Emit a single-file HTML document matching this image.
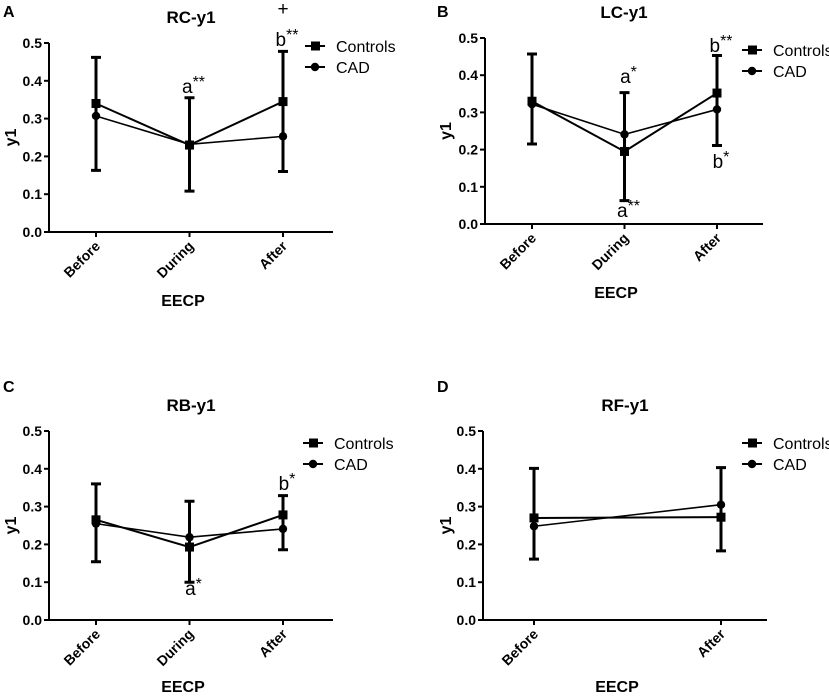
<!DOCTYPE html>
<html><head><meta charset="utf-8"><style>
body{margin:0;background:#fff}
svg text{font-family:"Liberation Sans",Arial,sans-serif;fill:#000}
.b{font-weight:bold}
</style></head><body>
<svg id="fig" width="829" height="695" viewBox="0 0 829 695" xmlns="http://www.w3.org/2000/svg"></svg>
<script>
// ---- data ----
const catsA = ["Before","During","After"];
const ctrlA = [0.34,0.23,0.345];
const cadA = [0.307,0.232,0.253];
const hiA = [0.462,0.355,0.478];
const loA = [0.163,0.108,0.16];

const catsB = ["Before","During","After"];
const ctrlB = [0.33,0.195,0.352];
const cadB = [0.322,0.241,0.308];
const hiB = [0.457,0.353,0.453];
const loB = [0.215,0.063,0.211];

const catsC = ["Before","During","After"];
const ctrlC = [0.265,0.193,0.278];
const cadC = [0.255,0.219,0.241];
const hiC = [0.36,0.314,0.329];
const loC = [0.154,0.1,0.186];

const catsD = ["Before","After"];
const ctrlD = [0.27,0.272];
const cadD = [0.248,0.305];
const hiD = [0.401,0.403];
const loD = [0.161,0.183];

const yTicks = ["0.0","0.1","0.2","0.3","0.4","0.5"];
const NS="http://www.w3.org/2000/svg";
const svg=document.getElementById('fig');
function el(tag,attrs,parent,txt){const e=document.createElementNS(NS,tag);for(const k in attrs)e.setAttribute(k,attrs[k]);if(txt!==undefined)e.textContent=txt;(parent||svg).appendChild(e);return e;}

function panel(p){
  const g=el('g',{});
  
  
  const y=v=>p.y0+(p.y5-p.y0)*(v/0.5);
  const n=p.cats.length;
  const x=i=>p.cx0+(p.cx1-p.cx0)*(n===1?0:i/(n-1));
  let t;
  t=el('text',{x:p.lx,y:p.ly,'font-size':16,class:'b'},g,p.id);
  
  t=el('text',{x:(p.ax0+p.ax1)/2,y:p.ty,'font-size':17,class:'b','text-anchor':'middle'},g,p.title);
  
  let a=el('path',{d:`M${p.ax0} ${p.y5}V${p.y0}H${p.ax1}`,stroke:'#000','stroke-width':2,fill:'none'},g);
  
  yTicks.forEach((s,i)=>{const v=parseFloat(s);
    el('line',{x1:p.ax0-5,x2:p.ax0,y1:y(v),y2:y(v),stroke:'#000','stroke-width':2},g);
    const tl=el('text',{x:p.ax0-7,y:y(v)+5,'font-size':14,class:'b','text-anchor':'end'},g,s);
    
  });
  p.cats.forEach((c,i)=>{
    el('line',{x1:x(i),x2:x(i),y1:p.y0,y2:p.y0+5,stroke:'#000','stroke-width':2},g);
    const tl=el('text',{x:x(i)+5,y:p.y0+15,'font-size':14,class:'b','text-anchor':'end',transform:`rotate(-45 ${x(i)+5} ${p.y0+15})`},g,c);
    
  });
  t=el('text',{x:(p.ax0+p.ax1)/2-8,y:p.xly,'font-size':16,class:'b','text-anchor':'middle'},g,'EECP');
  
  t=el('text',{x:p.yx,y:(p.y0+p.y5)/2,'font-size':16,class:'b','text-anchor':'middle',transform:`rotate(-90 ${p.yx} ${(p.y0+p.y5)/2})`},g,'y1');
  
  p.cats.forEach((c,i)=>{
    const e=el('path',{d:`M${x(i)} ${y(p.hi[i])}V${y(p.lo[i])}M${x(i)-5} ${y(p.hi[i])}h10M${x(i)-5} ${y(p.lo[i])}h10`,stroke:'#000','stroke-width':3,fill:'none'},g);
    
  });
  const lc=el('polyline',{points:p.ctrl.map((v,i)=>x(i)+','+y(v)).join(' '),stroke:'#000','stroke-width':2,fill:'none'},g);
  
  const ld=el('polyline',{points:p.cad.map((v,i)=>x(i)+','+y(v)).join(' '),stroke:'#000','stroke-width':1.6,fill:'none'},g);
  
  p.ctrl.forEach((v,i)=>{const m=el('rect',{x:x(i)-4.5,y:y(v)-4.5,width:9,height:9,fill:'#000'},g);
    });
  p.cad.forEach((v,i)=>{const m=el('circle',{cx:x(i),cy:y(v),r:4.2,fill:'#000'},g);
    });
  const lg=el('g',{},g);
  
  el('line',{x1:p.lgx,x2:p.lgx+20,y1:p.lgy,y2:p.lgy,stroke:'#000','stroke-width':2},lg);
  el('rect',{x:p.lgx+6,y:p.lgy-4.5,width:9,height:9},lg);
  el('text',{x:p.lgx+31,y:p.lgy+6,'font-size':16},lg,'Controls');
  el('line',{x1:p.lgx,x2:p.lgx+20,y1:p.lgy+21,y2:p.lgy+21,stroke:'#000','stroke-width':2},lg);
  el('circle',{cx:p.lgx+10,cy:p.lgy+21,r:4.2},lg);
  el('text',{x:p.lgx+31,y:p.lgy+27,'font-size':16},lg,'CAD');
  p.ann.forEach(an=>{
    const at=el('text',{x:x(an[0])+(an[3]?4:0),y:an[2],'font-size':19,'text-anchor':'middle'},g);
    
    el('tspan',{},at,an[1]);
    if(an[3]){el('tspan',{dy:-6,'font-size':16},at,an[3]);}
  });
}

panel({id:'A',title:'RC-y1',cats:catsA,ctrl:ctrlA,cad:cadA,hi:hiA,lo:loA,
  lx:3,ly:17,ty:23,ax0:49,ax1:333,y0:232,y5:43,cx0:96,cx1:283,xly:306,yx:16,lgx:305,lgy:46,
  ann:[[1,'a',93,'**'],[2,'b',46,'**'],[2,'+',15,'']]});
panel({id:'B',title:'LC-y1',cats:catsB,ctrl:ctrlB,cad:cadB,hi:hiB,lo:loB,
  lx:437,ly:17,ty:18,ax0:485,ax1:763,y0:224,y5:38,cx0:532,cx1:717,xly:298,yx:451,lgx:742,lgy:50,
  ann:[[1,'a',83,'*'],[1,'a',217,'**'],[2,'b',52,'**'],[2,'b',168,'*']]});
panel({id:'C',title:'RB-y1',cats:catsC,ctrl:ctrlC,cad:cadC,hi:hiC,lo:loC,
  lx:3,ly:392,ty:411,ax0:49,ax1:333,y0:620,y5:431,cx0:96,cx1:283,xly:692,yx:16,lgx:303,lgy:443,
  ann:[[2,'b',490,'*'],[1,'a',595,'*']]});
panel({id:'D',title:'RF-y1',cats:catsD,ctrl:ctrlD,cad:cadD,hi:hiD,lo:loD,
  lx:437,ly:392,ty:411,ax0:483,ax1:767,y0:620,y5:431,cx0:534,cx1:721,xly:692,yx:451,lgx:742,lgy:443,
  ann:[]});
</script>
</body></html>
